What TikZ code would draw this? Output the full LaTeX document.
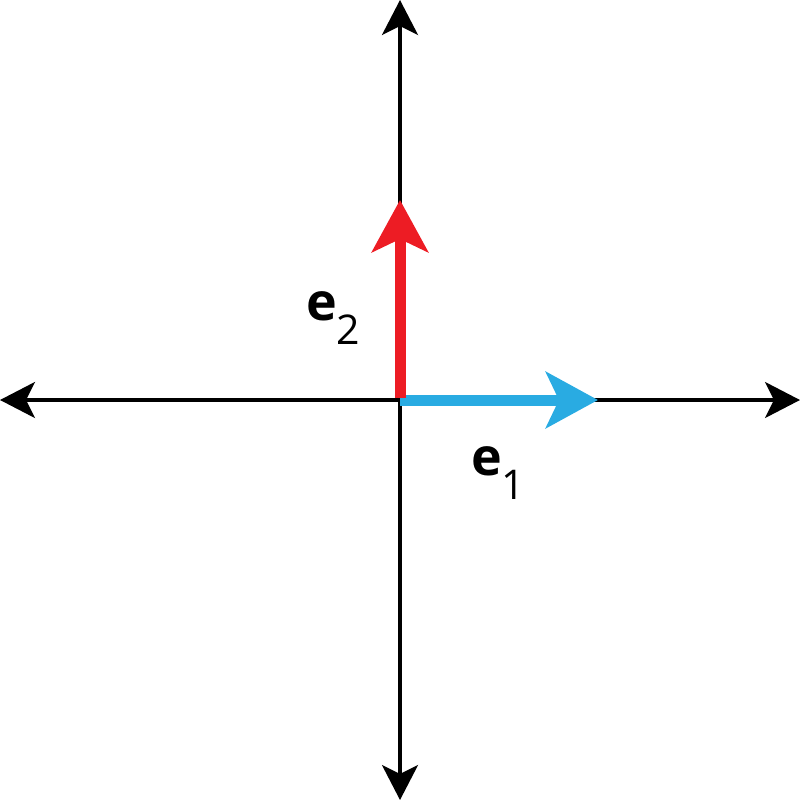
\documentclass[tikz,border=0pt]{standalone}
\usepackage{fontspec}
\setmainfont{Open Sans}
\usetikzlibrary{arrows.meta}
\definecolor{vred}{HTML}{ED1C24}
\definecolor{vblue}{HTML}{29ABE2}
\tikzset{
  axis/.style={line width=3.5pt, black, {Stealth[length=35pt,width=36pt,inset=9pt]}-{Stealth[length=35pt,width=36pt,inset=9pt]}},
  basis/.style={line width=11pt, -{Stealth[length=52pt,width=56pt,inset=13pt]}},
  lbl/.style={inner sep=0pt, anchor=base west}
}
\newcommand{\veclabel}[1]{{\fontsize{52}{52}\selectfont\bfseries e}\raisebox{-24pt}{\fontsize{41}{41}\selectfont #1}}
\begin{document}
\begin{tikzpicture}[x=1pt,y=-1pt]
\useasboundingbox (0,0) rectangle (800,800);
\coordinate (L) at (0,400);
\coordinate (R) at (800,400);
\coordinate (T) at (400,0);
\coordinate (B) at (400,800);
\coordinate (O) at (400,400);
\coordinate (E1) at (598,400);
\coordinate (E2) at (400,200);
\draw[axis] (L) -- (R);
\draw[axis] (B) -- (T);
\draw[basis, vblue] (O) -- (E1);
\draw[basis, vred] ([yshift=2pt]O) -- (E2);
\node[lbl] (l2) at (306,320) {\veclabel{2}};
\node[lbl] (l1) at (471,475) {\veclabel{1}};
\end{tikzpicture}
\end{document}
